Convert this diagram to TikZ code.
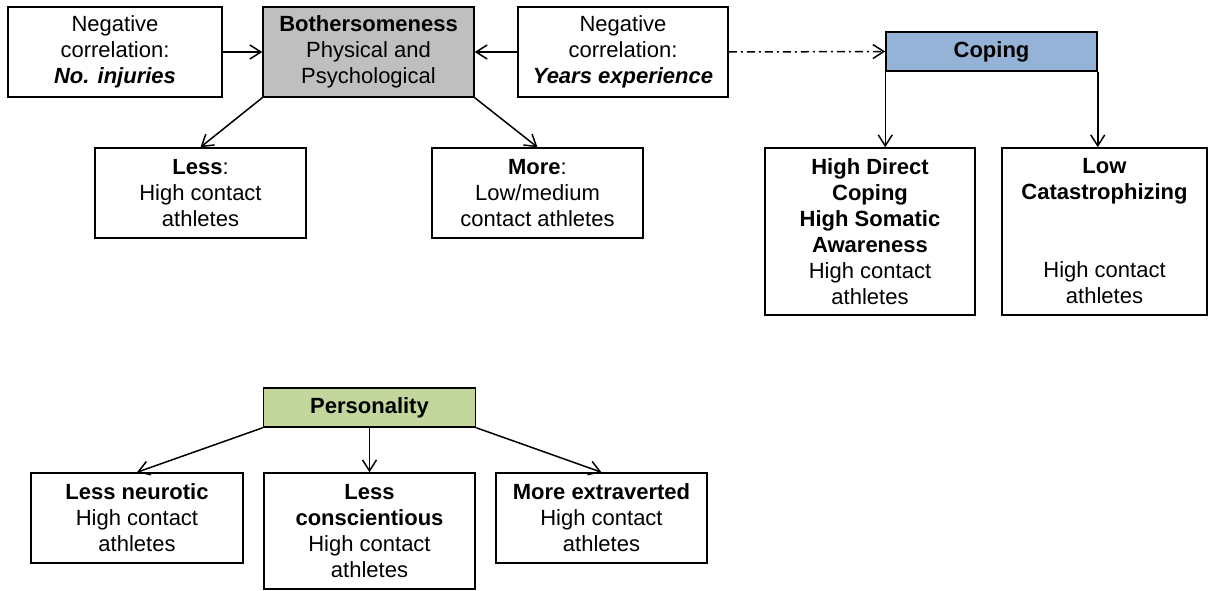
\documentclass[tikz,border=0pt]{standalone}
\usepackage{fontspec}
\setmainfont{Liberation Sans}
\usetikzlibrary{arrows.meta}
\definecolor{greybox}{HTML}{BFBFBF}
\definecolor{copingblue}{HTML}{95B3D7}
\definecolor{persgreen}{HTML}{C3D69B}
\tikzset{
  box/.style={draw=black, line width=1.5pt, align=center, inner sep=0pt,
    font=\fontsize{22}{26}\selectfont, minimum width=#1},
  box/.default=211pt,
  arr/.style={line width=1.5pt, -{Straight Barb[length=11pt,width=14pt,line width=1.5pt]}},
  dashdot/.style={arr, dash pattern=on 8pt off 4pt on 2pt off 4pt}
}
\begin{document}
\begin{tikzpicture}[x=1pt,y=-1pt]
\useasboundingbox (0,0) rectangle (1208,591);
% top row
\node[box=214pt, minimum height=90pt] (inj) at (115,52)
  {Negative\\correlation:\\\textbf{\textit{No. injuries}}};
\node[box, fill=greybox, minimum height=90pt] (both) at (368.5,52)
  {\textbf{Bothersomeness}\\Physical and\\Psychological};
\node[box=210pt, minimum height=90pt] (yrs) at (623,52)
  {Negative\\correlation:\\\textbf{\textit{Years experience}}};
\node[box=211pt, fill=copingblue, minimum height=39pt] (cop) at (991.5,51.5)
  {\textbf{Coping}};
% second row
\node[box, minimum height=90pt] (less) at (200.5,193)
  {\textbf{Less}:\\High contact\\athletes};
\node[box, minimum height=90pt] (more) at (537.5,193)
  {\textbf{More}:\\Low/medium\\contact athletes};
\node[box=210pt, minimum height=167pt] (hd) at (870,231.5)
  {\textbf{High Direct}\\\textbf{Coping}\\\textbf{High Somatic}\\\textbf{Awareness}\\High contact\\athletes};
\node[box=205pt, minimum height=167pt] (lc) at (1104.5,231.5)
  {\textbf{Low}\\\textbf{Catastrophizing}\\~\\~\\High contact\\athletes};
% personality
\node[box=212pt, fill=persgreen, minimum height=39pt] (pers) at (369.5,407.5)
  {\textbf{Personality}};
\node[box=212pt, minimum height=90pt] (neur) at (137,518)
  {\textbf{Less neurotic}\\High contact\\athletes};
\node[box, minimum height=116pt] (cons) at (369.5,531)
  {\textbf{Less}\\\textbf{conscientious}\\High contact\\athletes};
\node[box, minimum height=90pt] (extr) at (601.5,518)
  {\textbf{More extraverted}\\High contact\\athletes};
% connectors
\draw[arr] (inj.east) -- (both.west);
\draw[arr] (yrs.west) -- (both.east);
\draw[dashdot] (yrs.east) -- (cop.west);
\draw[arr] (both.south west) -- (less.north);
\draw[arr] (both.south east) -- (more.north);
\draw[arr] (cop.south west) -- (cop.south west |- hd.north);
\draw[arr] (cop.south east) -- (cop.south east |- lc.north);
\draw[arr] (pers.south west) -- (neur.north);
\draw[arr] (pers.south) -- (cons.north);
\draw[arr] (pers.south east) -- (extr.north);
\end{tikzpicture}
\end{document}
